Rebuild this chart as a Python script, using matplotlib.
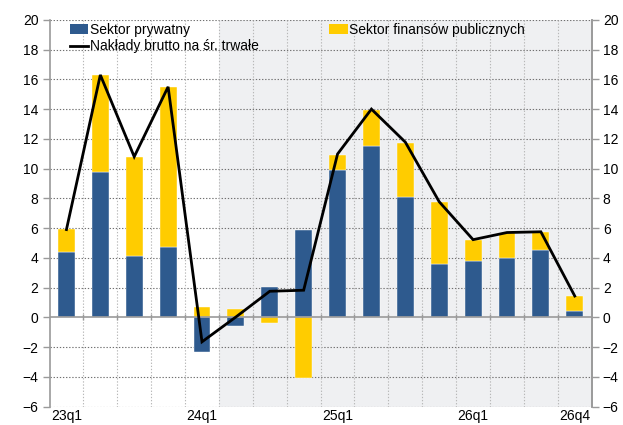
import matplotlib
matplotlib.use("Agg")
import matplotlib.pyplot as plt
import numpy as np
from matplotlib.patches import Patch
from matplotlib.lines import Line2D

plt.rcParams['font.family'] = ['Liberation Sans', 'DejaVu Sans']

quarters = ['23q1', '23q2', '23q3', '23q4', '24q1', '24q2', '24q3', '24q4',
            '25q1', '25q2', '25q3', '25q4', '26q1', '26q2', '26q3', '26q4']
tick_labels = {0: '23q1', 4: '24q1', 8: '25q1', 12: '26q1', 15: '26q4'}

private_sector = [4.40, 9.77, 4.11, 4.76, -2.33, -0.56, 2.07, 5.90,
                  9.93, 11.55, 8.10, 3.57, 3.77, 4.02, 4.51, 0.42]
public_sector = [1.52, 6.50, 6.70, 10.70, 0.68, 0.56, -0.37, -4.10,
                 1.00, 2.42, 3.62, 4.15, 1.45, 1.67, 1.24, 1.03]
gross_investment = [5.90, 16.30, 10.80, 15.50, -1.65, 0.02, 1.75, 1.82,
                    10.98, 14.00, 11.78, 7.77, 5.22, 5.70, 5.75, 1.43]

BLUE = '#2E5A8E'
YELLOW = '#FFCC00'
GREY = '#9A9A9A'

fig = plt.figure(figsize=(6.23, 4.25), dpi=100)
ax = fig.add_axes([49.5 / 623, 18.5 / 425, 542.2 / 623, 386.6 / 425])

x = np.arange(len(quarters))
priv = np.array(private_sector)
pub = np.array(public_sector)

# forecast period shading
ax.axvspan(4.5, 15.5, color='#EFF0F2', zorder=0, lw=0)

# grid
for yv in range(-6, 21, 2):
    if yv == 0:
        continue
    ax.axhline(yv, color='#707070', lw=0.8, ls=(0, (1.2, 1.6)), zorder=1)
for xv in np.arange(0.5, 15.5, 1):
    ax.axvline(xv, color='#B8B8B8', lw=0.8, ls=(0, (1.2, 1.6)), zorder=1)

# stacked bars: positive parts stack up from zero, negative parts down
pos_base = np.zeros(len(x))
neg_base = np.zeros(len(x))
for vals, col in ((priv, BLUE), (pub, YELLOW)):
    bottoms = np.where(vals >= 0, pos_base, neg_base)
    ax.bar(x, vals, width=0.5, bottom=bottoms, color=col,
           edgecolor='white', linewidth=0.3, zorder=2)
    pos_base = pos_base + np.where(vals >= 0, vals, 0)
    neg_base = neg_base + np.where(vals < 0, vals, 0)

ax.axhline(0, color=GREY, lw=1.2, zorder=3)
ax.plot(np.arange(0.5, 15.5, 1), np.zeros(15), ls='none', marker='|',
        color=GREY, ms=5, mew=1.0, zorder=3)

ax.plot(x, gross_investment, color='black', lw=2.0, zorder=4,
        solid_joinstyle='miter')

ax.set_xlim(-0.5, 15.5)
ax.set_ylim(-6, 20)
ax.set_yticks(range(-6, 21, 2))
ax.set_xticks(list(tick_labels.keys()))
ax.set_xticklabels(list(tick_labels.values()))
ax.tick_params(axis='x', length=0, pad=1.5, labelsize=10)
ax.tick_params(axis='y', length=5, color=GREY, width=1, labelsize=10, pad=3)

for s in ('top', 'bottom'):
    ax.spines[s].set_visible(False)
for s in ('left', 'right'):
    ax.spines[s].set_color(GREY)
    ax.spines[s].set_linewidth(1.2)

ax2 = ax.twinx()
ax2.set_ylim(-6, 20)
ax2.set_yticks(range(-6, 21, 2))
ax2.tick_params(axis='y', length=5, color=GREY, width=1, labelsize=10, pad=3)
for s in ('top', 'bottom', 'left'):
    ax2.spines[s].set_visible(False)
ax2.spines['right'].set_color(GREY)
ax2.spines['right'].set_linewidth(1.2)

h1 = [Patch(facecolor=BLUE), Line2D([], [], color='black', lw=2.0)]
leg1 = ax.legend(h1, ['Sektor prywatny', 'Nakłady brutto na śr. trwałe'],
                 loc='upper left', bbox_to_anchor=(0.037, 0.993),
                 frameon=False, fontsize=10, handlelength=1.35,
                 handleheight=0.7, handletextpad=0.1, labelspacing=0.2,
                 borderaxespad=0, borderpad=0)
ax.add_artist(leg1)
ax.legend([Patch(facecolor=YELLOW)], ['Sektor finansów publicznych'],
          loc='upper left', bbox_to_anchor=(0.516, 0.993), frameon=False,
          fontsize=10, handlelength=1.35, handleheight=0.7,
          handletextpad=0.1, borderaxespad=0, borderpad=0)

fig.savefig('out.png', dpi=100)
